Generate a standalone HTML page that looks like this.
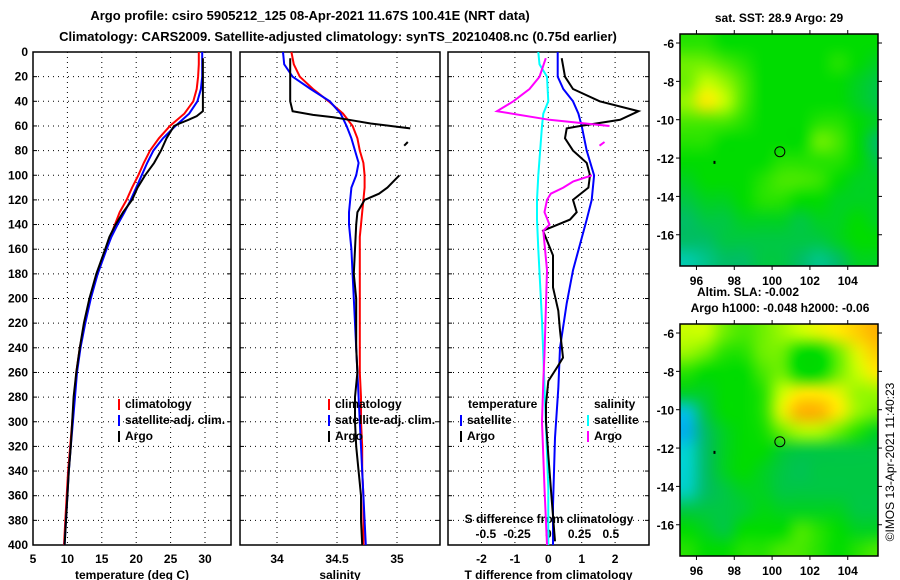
<!DOCTYPE html>
<html><head><meta charset="utf-8">
<style>
html,body{margin:0;padding:0;background:#fff;}
body{width:900px;height:580px;overflow:hidden;position:relative;font-family:"Liberation Sans",Arial,sans-serif;}
svg{position:absolute;left:0;top:0;}
svg text{font-family:"Liberation Sans",Arial,sans-serif;font-weight:bold;font-size:12px;fill:#000;}
canvas{position:absolute;}
</style></head>
<body>
<canvas id="map1" width="198" height="232" style="left:680px;top:34px;"></canvas>
<canvas id="map2" width="198" height="232" style="left:680px;top:324px;"></canvas>
<svg id="chart" width="900" height="580" xmlns="http://www.w3.org/2000/svg"></svg>
<script>
// ---- data ----
const depths = [0,10,20,30,40,50,60,70,80,90,100,110,120,130,140,150,160,180,200,220,240,260,280,300,320,340,360,380,400];
const tClim = [29.1,29.1,29.0,28.8,28.3,27.0,24.9,23.3,22.0,21.1,20.3,19.4,18.6,17.6,16.9,16.2,15.6,14.3,13.3,12.5,11.8,11.3,11.0,10.7,10.4,10.1,9.9,9.7,9.5];
const tSat = [29.6,29.6,29.6,29.4,28.9,27.7,25.7,23.9,22.5,21.6,20.8,20.0,19.2,18.3,17.3,16.4,15.7,14.4,13.4,12.6,11.9,11.4,11.1,10.8,10.5,10.2,10.0,9.8,9.6];
const tArgoDepth = [5,10,20,30,40,48,52,55,58,60,70,80,90,100,110,120,130,140,150,160,180,200,220,240,260,280,300,320,340,360,380,400];
const tArgo = [29.7,29.7,29.7,29.7,29.7,29.7,28.8,27.6,26.3,25.5,24.4,23.6,22.6,21.3,20.2,19.4,18.1,17.0,16.1,15.5,14.2,13.2,12.4,11.8,11.3,10.9,10.7,10.5,10.2,10.0,9.8,9.6];
const sClim = [34.12,34.14,34.19,34.30,34.43,34.55,34.63,34.67,34.69,34.72,34.73,34.73,34.72,34.71,34.70,34.69,34.69,34.69,34.69,34.69,34.69,34.69,34.70,34.70,34.71,34.71,34.72,34.72,34.72];
const sSat = [34.05,34.06,34.13,34.28,34.44,34.53,34.58,34.62,34.65,34.68,34.66,34.62,34.61,34.60,34.60,34.61,34.62,34.63,34.64,34.65,34.66,34.67,34.68,34.69,34.70,34.71,34.72,34.73,34.74];
const sArgoDepth1 = [5,20,40,48,51,53,55,58,62];
const sArgo1 = [34.11,34.11,34.11,34.13,34.30,34.47,34.60,34.78,35.11];
const sArgoDepth2 = [73,76];
const sArgo2 = [35.09,35.06];
const sArgoDepth3 = [100,105,110,115,120,125,130,140,160,180,200,220,240,260,280,300,320,340,360,380,400];
const sArgo3 = [35.02,34.97,34.92,34.85,34.73,34.70,34.67,34.66,34.65,34.64,34.66,34.66,34.66,34.67,34.65,34.65,34.66,34.68,34.70,34.70,34.71];
const dtSatDepth = [0,20,30,40,50,60,80,100,120,136,177,204,240,273,313,368,400];
const dtSat = [0.28,0.28,0.45,0.74,0.9,1.0,1.15,1.37,1.3,1.15,0.74,0.55,0.35,0.3,0.2,0.14,0.14];
const dtArgoDepth = [5,20,30,40,48,55,60,62,70,80,90,100,110,120,130,136,145,165,191,210,226,248,256,267,286,300,327,362,397];
const dtArgo = [0.4,0.5,0.74,1.54,2.7,2.15,0.95,0.55,0.5,0.74,1.15,1.25,1.2,0.74,0.85,0.65,-0.16,0.14,0.14,0.3,0.35,0.44,0.26,0,-0.07,-0.07,0,0.1,0.2];
const dsSatDepth = [0,10,20,40,50,60,100,120,136,160,218,300,354,400];
const dsSat = [-0.08,-0.07,-0.01,0,-0.04,-0.05,-0.08,-0.09,-0.09,-0.08,-0.05,-0.02,0,0];
const dsArgoDepth1 = [5,20,30,40,48,55,60];
const dsArgo1 = [-0.02,-0.07,-0.15,-0.28,-0.41,0.01,0.49];
const dsArgoDepth2 = [73,76];
const dsArgo2 = [0.45,0.41];
const dsArgoDepth3 = [100,105,110,115,120,130,140,145,177,245,267,300,354,400];
const dsArgo3 = [0.35,0.2,0.12,0.02,-0.01,-0.03,0.01,-0.04,-0.01,-0.03,-0.04,-0.05,-0.03,-0.01];
const depthTicks = [0,20,40,60,80,100,120,140,160,180,200,220,240,260,280,300,320,340,360,380,400];
const tTicks = [5,10,15,20,25,30];
const sTicks = [34,34.5,35];
const dtTicks = [-2,-1,0,1,2];
const dsTicks = [-0.5,-0.25,0,0.25,0.5];
const dsTickLabels = ["-0.5","-0.25","0","0.25","0.5"];
const lonTicks = [96,98,100,102,104];
const latTicks = [-6,-8,-10,-12,-14,-16];
const argoLon = 100.41, argoLat = -11.67;
// map grids: rows lat -6..-17, cols lon 95.5..105.5
const sstGrid = [
[0.1,0.1,0,0,0,0,0,0,0,0,0],
[0.3,0.3,0.2,0.1,0,0,0,0,0.1,0,-0.1],
[0.3,0.5,0.4,0.2,0,0,0,0,0,-0.1,-0.2],
[0.4,0.7,0.5,0.2,0,0,0,0,0,-0.1,-0.2],
[0.2,0.2,0.2,0.1,0,0,0,0.1,0.1,0,-0.1],
[0.1,0.1,0,0,0,0,0,0.3,0.2,0,-0.3],
[0,0,0,0,0,0.1,0.1,0.1,0.1,0,-0.2],
[-0.1,0,0,0,0.1,0.2,0.2,0.15,0,-0.1,-0.1],
[-0.2,-0.1,-0.1,0,0.1,0.1,0,0,-0.1,-0.1,-0.1],
[-0.3,-0.2,-0.2,-0.1,-0.1,-0.1,-0.2,-0.1,-0.1,0,-0.1],
[-0.3,-0.3,-0.2,-0.2,-0.2,-0.2,-0.2,-0.2,-0.1,0,0],
[-0.5,-0.4,-0.3,-0.3,-0.2,-0.2,-0.3,-0.4,-0.3,-0.1,-0.1]];
const slaGrid = [
[0.5,0.5,0.3,0.2,0.3,0.4,0.5,0.6,0.7,0.8,0.9],
[0.4,0.3,0.1,0.1,0.3,0.3,0,0,0.3,0.6,0.8],
[0.1,0,0,0,0.2,0.3,0,0,0.3,0.5,0.7],
[-0.1,-0.1,0,0,0.1,0.5,0.7,0.7,0.6,0.4,0.4],
[-0.7,-0.2,0,0,0.1,0.6,0.9,0.9,0.7,0.4,0.3],
[-0.8,-0.3,-0.1,0,0.05,0.3,0.45,0.45,0.3,0.1,-0.1],
[-0.6,-0.3,-0.1,0,0,-0.15,-0.2,-0.2,-0.2,-0.2,-0.2],
[-0.6,-0.3,-0.1,0,-0.1,-0.2,-0.25,-0.2,-0.2,-0.2,-0.2],
[-0.55,-0.3,-0.2,-0.1,-0.1,-0.2,-0.2,-0.2,-0.2,-0.2,-0.2],
[-0.2,-0.2,-0.2,-0.15,-0.05,-0.1,-0.1,-0.1,-0.1,-0.2,-0.2],
[0,-0.1,-0.2,0,0,0,0.2,0.1,0,-0.1,-0.1],
[0.1,0,0,0.1,0.1,0.2,0.2,0.1,0,0.1,0.2]];

// ---- scales ----
const Y0=52, Y1=545;
const yD = d => Y0 + d*(Y1-Y0)/400;
const xT = t => 33 + (t-5)*6.88;
const xS = s => 337 + (s-34.5)*120;
const xDT = t => 548.3 + t*33.4;
const xDS = s => 548.3 + s*125;
const MX0=680, MX1=878, LON0=95.13, LON1=105.6, LAT0=-5.53, LAT1=-17.63;
const mx = lon => MX0 + (lon-LON0)*(MX1-MX0)/(LON1-LON0);
const my = (lat,top) => top + (LAT0-lat)*232/(LAT0-LAT1);

const svg = document.getElementById('chart');
const NS='http://www.w3.org/2000/svg';
function mk(tag, attrs, parent){const e=document.createElementNS(NS,tag);for(const k in attrs)e.setAttribute(k,attrs[k]);(parent||svg).appendChild(e);return e;}
function txt(x,y,s,anchor,name,size){const e=mk('text',{x:x,y:y,'text-anchor':anchor||'start'});if(size)e.style.fontSize=size+'px';e.textContent=s;


return e;}
function line(xs,ds,fx,color,name){let p='';for(let i=0;i<xs.length;i++){p+=(i?'L':'M')+fx(xs[i]).toFixed(1)+','+yD(ds[i]).toFixed(1);}
const e=mk('path',{d:p,fill:'none',stroke:color,'stroke-width':2});


return e;}

// titles
txt(310,20,'Argo profile: csiro 5905212_125 08-Apr-2021 11.67S 100.41E (NRT data)','middle','title-line-1',13);
txt(338,41,'Climatology: CARS2009. Satellite-adjusted climatology: synTS_20210408.nc (0.75d earlier)','middle','title-line-2',13);

function panel(x0,x1,ticks,fx,labels,xlabel,name){
  const g=mk('g',{});
  
  
  depthTicks.forEach(d=>{ if(d>0&&d<400) mk('line',{x1:x0,x2:x1,y1:yD(d),y2:yD(d),stroke:'#000','stroke-dasharray':'1,4'},g);
    mk('line',{x1:x0,x2:x0+4,y1:yD(d),y2:yD(d),stroke:'#000'},g); mk('line',{x1:x1-4,x2:x1,y1:yD(d),y2:yD(d),stroke:'#000'},g);});
  ticks.forEach((t,i)=>{const x=fx(t); if(x>x0+1&&x<x1-1) mk('line',{x1:x,x2:x,y1:Y0,y2:Y1,stroke:'#000','stroke-dasharray':'1,4'},g);
    const l=txt(x,563,labels[i],'middle','x-tick-label'); g.appendChild(l);});
  mk('rect',{x:x0,y:Y0,width:x1-x0,height:Y1-Y0,fill:'none',stroke:'#000','stroke-width':1.5},g);
  g.appendChild(txt((x0+x1)/2,579,xlabel,'middle','x-axis-title'));
}
depthTicks.forEach(d=>txt(28,yD(d)+4,String(d),'end','depth-tick-label'));
panel(33,231,tTicks,xT,tTicks.map(String),'temperature (deg C)','temperature-panel');
panel(240,440,sTicks,xS,sTicks.map(String),'salinity','salinity-panel');
panel(448,649,dtTicks,xDT,dtTicks.map(String),'T difference from climatology','difference-panel');
dsTicks.forEach((s,i)=>txt(xDS(s),538,dsTickLabels[i],'middle','s-diff-tick-label'));
txt(549,523,'S difference from climatology','middle','s-diff-axis-title');

// series
line(tClim,depths,xT,'#ff0000','temp-climatology-line');
line(tSat,depths,xT,'#0000ff','temp-satellite-line');
line(tArgo,tArgoDepth,xT,'#000','temp-argo-line');
line(sClim,depths,xS,'#ff0000','sal-climatology-line');
line(sSat,depths,xS,'#0000ff','sal-satellite-line');
line(sArgo1,sArgoDepth1,xS,'#000','sal-argo-line');
line(sArgo2,sArgoDepth2,xS,'#000','sal-argo-line-2');
line(sArgo3,sArgoDepth3,xS,'#000','sal-argo-line-3');
line(dsSat,dsSatDepth,xDS,'#00ffff','sdiff-satellite-line');
line(dtSat,dtSatDepth,xDT,'#0000ff','tdiff-satellite-line');
line(dtArgo,dtArgoDepth,xDT,'#000','tdiff-argo-line');
line(dsArgo1,dsArgoDepth1,xDS,'#ff00ff','sdiff-argo-line');
line(dsArgo2,dsArgoDepth2,xDS,'#ff00ff','sdiff-argo-line-2');
line(dsArgo3,dsArgoDepth3,xDS,'#ff00ff','sdiff-argo-line-3');

// legends
function leg(x,y,color,label,name){const r=mk('rect',{x:x,y:y-9,width:2,height:11,fill:color});


txt(x+7,y,label,'start',name);}
[[125,'#ff0000','climatology'],[125,'#0000ff','satellite-adj. clim.'],[125,'#000','Argo']].forEach((l,i)=>leg(118,408+i*16,l[1],l[2],'legend-temp-'+i));
[[0,'#ff0000','climatology'],[0,'#0000ff','satellite-adj. clim.'],[0,'#000','Argo']].forEach((l,i)=>leg(328,408+i*16,l[1],l[2],'legend-sal-'+i));
txt(468,408,'temperature','start','legend-temperature-header');
txt(594,408,'salinity','start','legend-salinity-header');
leg(460,424,'#0000ff','satellite','legend-tdiff-satellite');
leg(460,440,'#000','Argo','legend-tdiff-argo');
leg(587,424,'#00ffff','satellite','legend-sdiff-satellite');
leg(587,440,'#ff00ff','Argo','legend-sdiff-argo');

// maps
function cmap(v){const stops=[[-1,0,140,255],[-0.6,0,210,210],[-0.3,0,190,100],[0,0,220,0],[0.3,110,240,0],[0.5,200,255,0],[0.7,255,235,0],[1,255,150,0]];
 v=Math.max(-1,Math.min(1,v));for(let i=1;i<stops.length;i++){if(v<=stops[i][0]){const a=stops[i-1],b=stops[i],f=(v-a[0])/(b[0]-a[0]);return [0,1,2].map(k=>Math.round(a[k+1]+f*(b[k+1]-a[k+1])));}}return [255,150,0];}
function drawMap(id,grid,top){
 const c=document.getElementById(id),ctx=c.getContext('2d');
 const rows=grid.length,cols=grid[0].length;
 const sm=document.createElement('canvas');sm.width=cols;sm.height=rows;const sc=sm.getContext('2d');
 const im=sc.createImageData(cols,rows);
 for(let r=0;r<rows;r++)for(let q=0;q<cols;q++){const col=cmap(grid[r][q]);const o=(r*cols+q)*4;im.data[o]=col[0];im.data[o+1]=col[1];im.data[o+2]=col[2];im.data[o+3]=255;}
 sc.putImageData(im,0,0);
 ctx.imageSmoothingEnabled=true;ctx.imageSmoothingQuality='high';
 const x0=mx(95)-MX0, x1=mx(106)-MX0, y0=my(-5.5,0), y1=my(-17.5,0);
 ctx.drawImage(sm,x0,y0,x1-x0,y1-y0+6);
 const g=mk('g',{});
 
 
 mk('rect',{x:MX0,y:top,width:MX1-MX0,height:232,fill:'none',stroke:'#000','stroke-width':1.5},g);
 lonTicks.forEach(l=>{const x=mx(l);mk('line',{x1:x,x2:x,y1:top,y2:top-4,stroke:'#000'},g);mk('line',{x1:x,x2:x,y1:top+232,y2:top+236,stroke:'#000'},g);
   g.appendChild(txt(x,top+251,String(l),'middle','lon-tick-label'));});
 latTicks.forEach(l=>{const y=my(l,top);mk('line',{x1:MX0,x2:MX0-4,y1:y,y2:y,stroke:'#000'},g);mk('line',{x1:MX1,x2:MX1+4,y1:y,y2:y,stroke:'#000'},g);
   g.appendChild(txt(674,y+5,String(l),'end','lat-tick-label'));});
 const ci=mk('circle',{cx:mx(argoLon),cy:my(argoLat,top),r:5,fill:'none',stroke:'#000'},g);
 
 
 mk('rect',{x:mx(96.9),y:my(-12.2,top)-1,width:2,height:3,fill:'#000'},g);
}
drawMap('map1',sstGrid,34);
drawMap('map2',slaGrid,324);
txt(779,22,'sat. SST: 28.9 Argo: 29','middle','sst-map-title');
txt(697,296,'Altim. SLA: -0.002','start','sla-title');
txt(780,312,'Argo h1000: -0.048 h2000: -0.06','middle','sla-map-title');
const cr=txt(0,0,'©IMOS 13-Apr-2021 11:40:23','middle','copyright-stamp');
cr.style.fontWeight='normal';
cr.setAttribute('transform','translate(894,462) rotate(-90)');
</script>
</body></html>
